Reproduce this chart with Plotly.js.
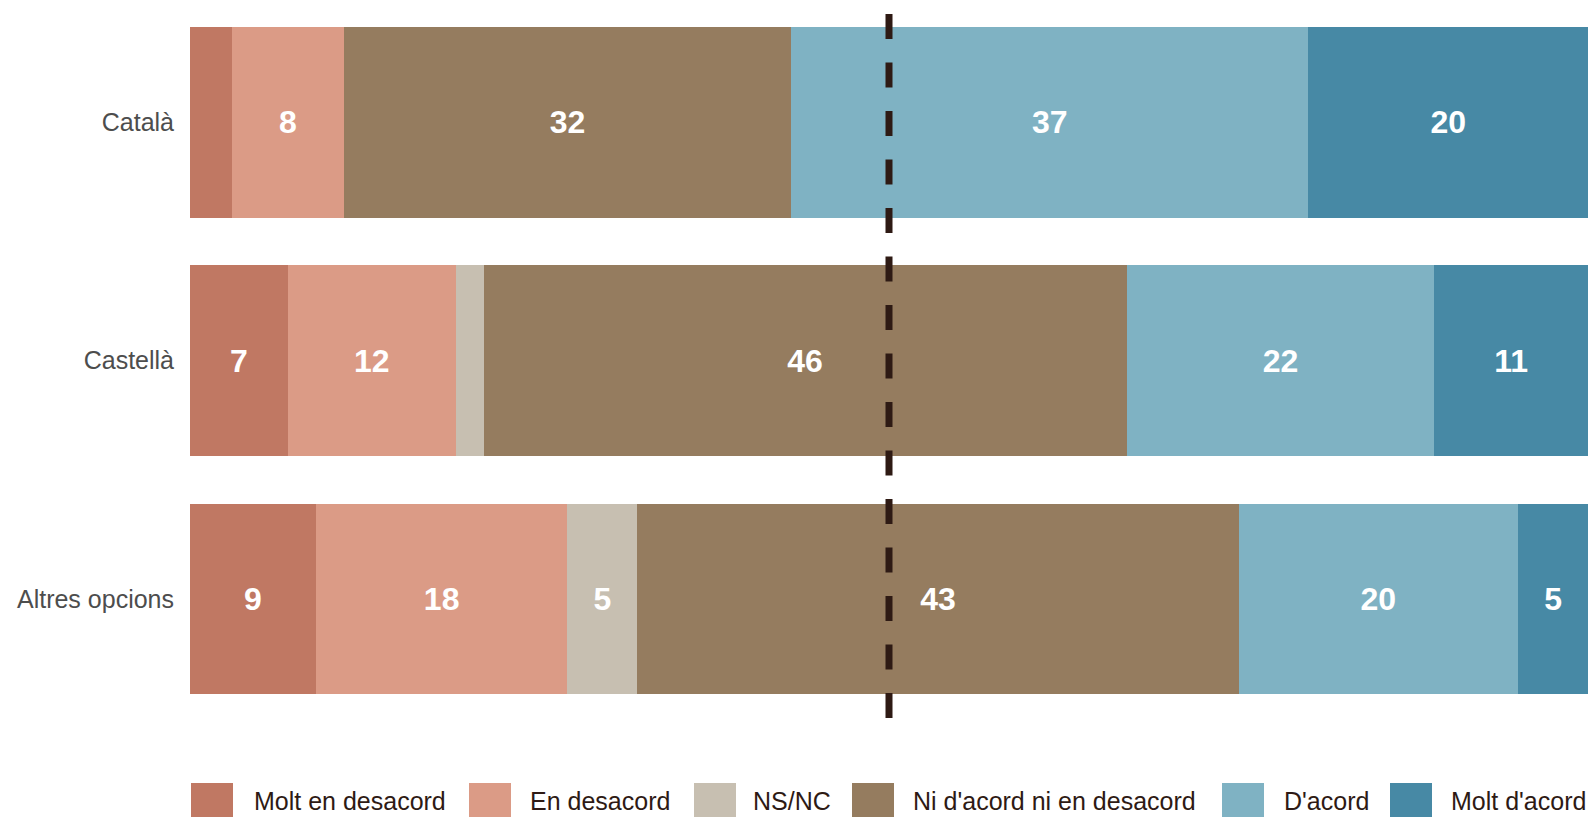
<!DOCTYPE html>
<html>
<head>
<meta charset="utf-8">
<script src="https://cdn.plot.ly/plotly-3.0.1.min.js"></script>
<style>html,body{margin:0;padding:0;background:#fff;}#chart{width:1591px;height:817px;}</style>
</head>
<body>
<div id="chart"></div>
<script>
// ---- Data ----
const categories = ['Català', 'Castellà', 'Altres opcions'];
const seriesNames = ['Molt en desacord', 'En desacord', 'NS/NC', "Ni d'acord ni en desacord", "D'acord", "Molt d'acord"];
const moltDesacord = [3, 7, 9];
const enDesacord = [8, 12, 18];
const nsnc = [0, 2, 5];
const niNi = [32, 46, 43];
const dAcord = [37, 22, 20];
const moltDAcord = [20, 11, 5];
const referenceLine = 50;

// ---- Style ----
const colors = ['#C07863', '#DB9B86', '#C7BFB1', '#957C5F', '#7FB2C3', '#4789A5'];
const seriesValues = [moltDesacord, enDesacord, nsnc, niNi, dAcord, moltDAcord];
const FONT = '"Liberation Sans", Arial, Helvetica, sans-serif';

const traces = seriesValues.map((vals, i) => ({
  type: 'bar',
  orientation: 'h',
  name: seriesNames[i],
  y: categories,
  x: vals,
  marker: { color: colors[i], line: { width: 0 } },
  text: vals.map(v => v >= 4 ? String(v) : ''),
  textposition: 'inside',
  insidetextanchor: 'middle',
  textangle: 0,
  constraintext: 'none',
  textfont: { family: FONT, size: 32, color: '#FFFFFF', weight: 'bold' },
  hoverinfo: 'skip',
  showlegend: false
}));

// plot-area geometry in pixels (for the hand-drawn legend)
const L = 190, R = 1588, T = 3, B = 718;
const px = v => (v - L) / (R - L);
const py = v => (B - v) / (B - T);

const legendSwatchX = [191, 469, 694, 852, 1222, 1390];
const legendTextX = [254, 530, 753, 913, 1284, 1451];

const shapes = [{
  type: 'line', xref: 'x', yref: 'paper',
  x0: referenceLine, x1: referenceLine, y0: 0, y1: py(11),
  line: { color: '#2E1A14', width: 7, dash: '25px,23.5px' },
  layer: 'above'
}];
const annotations = [];
seriesNames.forEach((n, i) => {
  shapes.push({
    type: 'rect', xref: 'paper', yref: 'paper',
    x0: px(legendSwatchX[i]), x1: px(legendSwatchX[i] + 42),
    y0: py(783), y1: py(830),
    fillcolor: colors[i], line: { width: 0 }, layer: 'above'
  });
  annotations.push({
    xref: 'paper', yref: 'paper', x: px(legendTextX[i] - 2), y: py(801),
    xanchor: 'left', yanchor: 'middle', showarrow: false,
    text: n, font: { family: FONT, size: 25, color: '#2E1A14' }
  });
});

const layout = {
  width: 1591, height: 817,
  margin: { l: L, r: 1591 - R, t: T, b: 817 - B, pad: 0 },
  paper_bgcolor: '#FFFFFF', plot_bgcolor: '#FFFFFF',
  barmode: 'stack', bargap: 0.2,
  showlegend: false,
  hovermode: false,
  xaxis: { range: [0, 100], showgrid: false, zeroline: false, showticklabels: false, ticks: '', showline: false, fixedrange: true },
  yaxis: {
    categoryorder: 'array', categoryarray: categories, range: [2.5, -0.5],
    showgrid: false, zeroline: false, showline: false, ticks: '',
    ticklabelstandoff: 15,
    tickfont: { family: FONT, size: 25, color: '#4D4D4D' }, fixedrange: true
  },
  shapes: shapes,
  annotations: annotations,
  uniformtext: { mode: false }
};

Plotly.newPlot('chart', traces, layout, { displayModeBar: false, staticPlot: true });
</script>
</body>
</html>
